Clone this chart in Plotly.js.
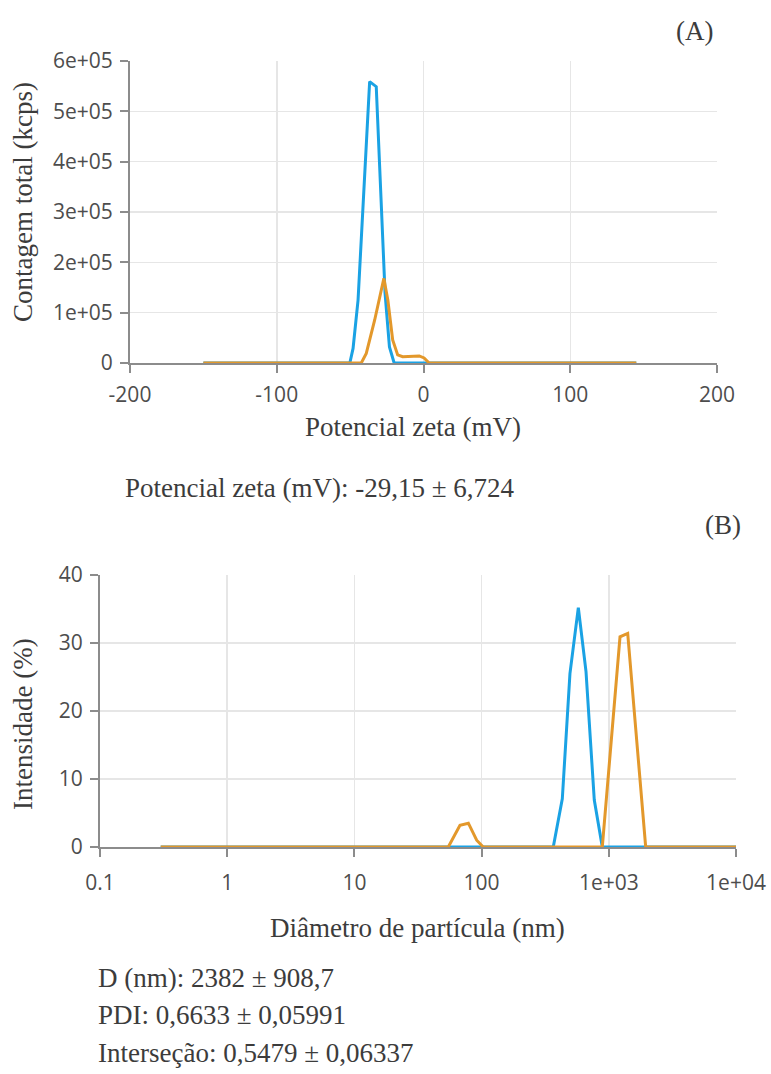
<!DOCTYPE html>
<html>
<head>
<meta charset="utf-8">
<script src="https://cdn.plot.ly/plotly-3.0.1.min.js"></script>
<style>
html,body{margin:0;padding:0;background:#fff;}
#chart{width:771px;height:1074px;}
</style>
</head>
<body>
<div id="chart"></div>
<script>
// ---- Panel A: zeta potential distribution ----
const zetaBlueX = [-150, -50.2, -48, -44.6, -36.7, -32.2, -26.2, -23.2, -20, 145];
const zetaBlueY = [0, 0, 29000, 125000, 559000, 549000, 139000, 32000, 0, 0];
const zetaOrangeX = [-150, -42.4, -39, -33.3, -27, -24.3, -21, -17.6, -14.2, -2.9, 0.4, 3.8, 145];
const zetaOrangeY = [0, 0, 19000, 85000, 168000, 125000, 46000, 16000, 12500, 14000, 10000, 0, 0];
const zetaYTickVals = [0, 100000, 200000, 300000, 400000, 500000, 600000];
const zetaYTickText = ["0", "1e+05", "2e+05", "3e+05", "4e+05", "5e+05", "6e+05"];
const zetaXTickVals = [-200, -100, 0, 100, 200];
const zetaXTickText = ["-200", "-100", "0", "100", "200"];

// ---- Panel B: size distribution ----
const sizeBlueX = [0.3, 366, 431, 495, 576, 662, 769, 889, 10000];
const sizeBlueY = [0, 0, 7.1, 25.5, 35.2, 25.8, 6.9, 0, 0];
const sizeOrangeX = [0.3, 54.7, 67.6, 78.7, 91.5, 103, 889, 1225, 1408, 1950, 10000];
const sizeOrangeY = [0, 0, 3.2, 3.5, 1.0, 0, 0, 30.9, 31.4, 0, 0];
const sizeXTickVals = [0.1, 1, 10, 100, 1000, 10000];
const sizeXTickText = ["0.1", "1", "10", "100", "1e+03", "1e+04"];
const sizeYTickVals = [0, 10, 20, 30, 40];

const BLUE = '#1aa2e4';
const ORANGE = '#e3982b';
const W = 771, H = 1074;
const px = v => v / W;
const py = v => (H - v) / H;

const tickFont = {family: 'Open Sans, Noto Sans, sans-serif', size: 21, color: '#4d4d4d'};
const serif = 'Liberation Serif, Times New Roman, serif';
const textColor = '#3c3c3c';

const commonAxis = {
  showline: true, linecolor: '#8c8c8c', linewidth: 2,
  ticks: 'outside', ticklen: 8, tickwidth: 2, tickcolor: '#8c8c8c',
  showgrid: true, gridcolor: '#e6e6e6', gridwidth: 1.5,
  zeroline: false, tickfont: tickFont, layer: 'below traces', fixedrange: true
};

const traces = [
  {x: zetaBlueX, y: zetaBlueY, xaxis: 'x', yaxis: 'y', mode: 'lines', line: {color: BLUE, width: 3}, hoverinfo: 'skip'},
  {x: zetaOrangeX, y: zetaOrangeY, xaxis: 'x', yaxis: 'y', mode: 'lines', line: {color: ORANGE, width: 3}, hoverinfo: 'skip'},
  {x: sizeBlueX, y: sizeBlueY, xaxis: 'x2', yaxis: 'y2', mode: 'lines', line: {color: BLUE, width: 3}, hoverinfo: 'skip'},
  {x: sizeOrangeX, y: sizeOrangeY, xaxis: 'x2', yaxis: 'y2', mode: 'lines', line: {color: ORANGE, width: 3}, hoverinfo: 'skip'}
];

function ann(text, x, y, opts) {
  return Object.assign({
    text: text, x: x, y: y, xref: 'paper', yref: 'paper',
    showarrow: false, xanchor: 'center', yanchor: 'middle',
    font: {family: serif, size: 27, color: textColor}
  }, opts || {});
}

const layout = {
  width: W, height: H,
  margin: {l: 0, r: 0, t: 0, b: 0},
  paper_bgcolor: '#ffffff', plot_bgcolor: '#ffffff',
  showlegend: false,
  xaxis: Object.assign({}, commonAxis, {
    domain: [px(130), px(717)], range: [-200, 200],
    tickvals: zetaXTickVals, ticktext: zetaXTickText, anchor: 'y', ticklabelstandoff: 4
  }),
  yaxis: Object.assign({}, commonAxis, {
    domain: [py(363), py(61)], range: [0, 600000],
    tickvals: zetaYTickVals, ticktext: zetaYTickText, anchor: 'x', ticklabelstandoff: 3
  }),
  xaxis2: Object.assign({}, commonAxis, {
    type: 'log', domain: [px(100), px(736)], range: [-1, 4],
    tickvals: sizeXTickVals, ticktext: sizeXTickText, anchor: 'y2', ticklabelstandoff: 8
  }),
  yaxis2: Object.assign({}, commonAxis, {
    domain: [py(847), py(575)], range: [0, 40],
    tickvals: sizeYTickVals, anchor: 'x2', ticklabelstandoff: 3
  }),
  annotations: [
    ann('(A)', px(694), py(31)),
    ann('Contagem total (kcps)', px(23), py(202), {textangle: -90}),
    ann('Potencial zeta (mV)', px(413), py(427)),
    ann('Potencial zeta (mV): -29,15 ± 6,724', px(123), py(488), {xanchor: 'left'}),
    ann('(B)', px(723), py(525)),
    ann('Intensidade (%)', px(23), py(724), {textangle: -90}),
    ann('Diâmetro de partícula (nm)', px(418), py(928)),
    ann('D (nm): 2382 ± 908,7', px(96), py(978), {xanchor: 'left'}),
    ann('PDI: 0,6633 ± 0,05991', px(96), py(1015), {xanchor: 'left'}),
    ann('Interseção: 0,5479 ± 0,06337', px(96), py(1053), {xanchor: 'left'})
  ]
};

Plotly.newPlot('chart', traces, layout, {staticPlot: true, displayModeBar: false});
</script>
</body>
</html>
